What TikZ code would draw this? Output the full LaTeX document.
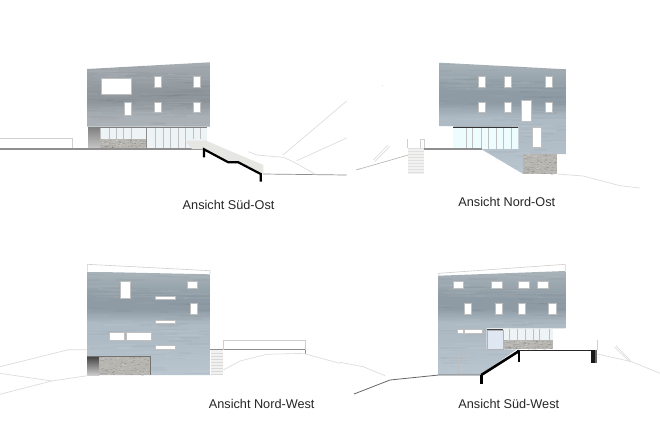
\documentclass[tikz,border=0pt]{standalone}
\usepackage{fontspec}
\setmainfont{Liberation Sans}
\definecolor{fgA}{HTML}{A6ACB1}\definecolor{fgB}{HTML}{8F979D}\definecolor{fgC}{HTML}{AAB1B6}\definecolor{fgD}{HTML}{B4BBC0}
\definecolor{fbA}{HTML}{A8B2B9}\definecolor{fbB}{HTML}{8E9BA4}\definecolor{fbC}{HTML}{AFBBC4}\definecolor{fbD}{HTML}{BAC6CF}
\pgfdeclareverticalshading{facadegray}{100bp}{color(0bp)=(fgD);color(25bp)=(fgD);color(42bp)=(fgC);color(50bp)=(fgC);color(57bp)=(fgB);color(62bp)=(fgB);color(75bp)=(fgA);color(100bp)=(fgA)}
\pgfdeclareverticalshading{facadeblue}{100bp}{color(0bp)=(fbD);color(25bp)=(fbD);color(42bp)=(fbC);color(50bp)=(fbC);color(57bp)=(fbB);color(62bp)=(fbB);color(75bp)=(fbA);color(100bp)=(fbA)}
\definecolor{hillc}{HTML}{DDDDDD}
\definecolor{railc}{HTML}{CFCFCF}
\definecolor{groundc}{HTML}{8F8F8F}
\definecolor{stonec}{HTML}{B6B5B0}
\definecolor{glassc}{HTML}{EEF3F5}
\definecolor{stairc}{HTML}{E6E6E3}
\definecolor{doorc}{HTML}{DFE8F2}
\tikzset{
  x=1pt,y=-1pt,
  hill/.style={draw=hillc,line width=0.7pt},
  thinrail/.style={draw=railc,line width=0.6pt},
  deckblack/.style={draw=black,line width=2.2pt},
  winbox/.style={fill=white,draw=black!25,line width=0.2pt},
  stonebox/.style={fill=stonec},
  glassbox/.style={fill=glassc},
  mullion/.style={draw=black!25,line width=0.4pt},
  caption/.style={font=\fontsize{12.7}{14}\selectfont,text=black!85,inner sep=0pt,anchor=center},
}
\newcommand{\wn}[4]{\path[winbox] (#1,#2) rectangle (#3,#4);}
% faint horizontal streaks of the concrete, drawn inside a facade's clip
\newcommand{\streaks}[4]{%
  \pgfmathsetseed{11}
  \foreach \k in {1,...,60}{
    \pgfmathsetmacro{\px}{#1+rnd*(#3-#1)}
    \pgfmathsetmacro{\py}{#2+rnd*(#4-#2)}
    \pgfmathsetmacro{\pw}{12+rnd*30}
    \fill[white,opacity=.04] (\px,\py) rectangle ++(\pw,1.6);
    \pgfmathsetmacro{\qx}{#1+rnd*(#3-#1)}
    \pgfmathsetmacro{\qy}{#2+rnd*(#4-#2)}
    \fill[black,opacity=.025] (\qx,\qy) rectangle ++(\pw,1.6);
  }}
\newcommand{\stonetex}[4]{%
  \path[stonebox] (#1,#2) rectangle (#3,#4);
  \begin{scope}
  \clip (#1,#2) rectangle (#3,#4);
  \pgfmathsetseed{7}
  \foreach \k in {1,...,70}{
    \pgfmathsetmacro{\px}{#1+rnd*(#3-#1)}
    \pgfmathsetmacro{\py}{#2+rnd*(#4-#2)}
    \fill[black,opacity=.08] (\px,\py) rectangle ++(2,0.9);
    \pgfmathsetmacro{\qx}{#1+rnd*(#3-#1)}
    \pgfmathsetmacro{\qy}{#2+rnd*(#4-#2)}
    \fill[white,opacity=.12] (\qx,\qy) rectangle ++(2,0.9);
  }
  \end{scope}}
\begin{document}
\begin{tikzpicture}
\useasboundingbox[fill=white] (0,0) rectangle (660,440);

%% ---- Sued-Ost ----
\draw[thinrail] (0,138.7) -- (72.7,138.7) -- (72.7,148.5);
\draw[hill] (248.3,151.7) -- (256.7,155) -- (283.3,157.3) -- (293.3,161.7) -- (315,174);
\draw[hill] (283,155) -- (346.7,101);
\draw[hill] (296.7,160.7) -- (346.7,138);
\draw[hill] (358,169.3) -- (360,168.7);
\draw[groundc,line width=0.7pt] (263,174) -- (346.7,175);
\begin{scope}
  \clip (87,69) -- (210,62.3) -- (210,126.7) -- (87,126.7) -- cycle;
  \shade[shading=facadegray] (87,62) rectangle (210,172);
  \streaks{70}{62}{210}{127}
\end{scope}
\path[glassbox] (100,127) rectangle (207.3,148.5);
\shade[top color=black!50,bottom color=black!22] (88.3,127) rectangle (100,148.5);
\stonetex{100}{139.3}{146}{148}
\foreach \x in {100,109,116,123,131,155,163,170,178,185,193,200}
  \draw[mullion] (\x,127.3) -- (\x,139.3);
\foreach \x in {155,163,170,178,185}
  \draw[mullion] (\x,139.3) -- (\x,148);
\draw[black!45,line width=0.6pt] (146,127) -- (146,148);
\draw[black!50,line width=0.5pt] (88.3,127) -- (207.3,127);
\wn{101}{78}{131}{94}
\wn{154.3}{75.7}{161.3}{86.7}
\wn{192.7}{75.7}{200}{86.7}
\wn{123.7}{101.7}{130.7}{115.3}
\wn{154.3}{101.7}{161.3}{112.3}
\wn{192.7}{101.7}{200}{112.3}
\draw[groundc,line width=1.9pt] (0,149.3) -- (204,149.3);
\path[fill=stairc] (185,140.7) -- (206,140.7) -- (263.3,165) -- (263.3,173.5) -- (260,173.5) -- (238.3,162.3) -- (228.3,162.3) -- (204,149.3) -- (192,149) -- cycle;
\draw[deckblack,line join=miter] (204,157.3) -- (204,149.3) -- (228.3,162.3) -- (238.3,162.3) -- (260.7,174) -- (260.7,181.7);
\node[caption] (lso) at (228.6,205.3) {Ansicht Süd-Ost};

%% ---- Nord-Ost ----
\draw[draw=black!30,line width=0.6pt] (356,170) -- (408.3,155);
\draw[hill] (373.3,160) -- (388,145.2);
\draw[hill] (375,161.5) -- (389.5,146.7);
\draw[hill] (381.5,85) -- (382,85);
\draw[hill] (557.3,174) -- (583.3,176) -- (620,185.7) -- (640,188);
\begin{scope}
  \clip (439.7,62.7) -- (566.7,69.3) -- (566.7,154) -- (523.3,154) -- (523.3,174) -- (481,149) -- (518.3,149) -- (518.3,127.3) -- (453.3,127.3) -- (453.3,126) -- (439.7,126) -- cycle;
  \shade[shading=facadeblue] (439.7,62) rectangle (566.7,174);
  \streaks{420}{62}{567}{174}
\end{scope}
\path[fill=glassc!70!cyan!20!white] (453.3,127.3) rectangle (518.3,148.5);
\foreach \x in {465.7,472.3,480.7,488.3,495.7,503.3,511}
  \draw[mullion] (\x,127.3) -- (\x,148.5);
\draw[black!80,line width=0.8pt] (453.3,127.3) -- (518.3,127.3);
\stonetex{523.3}{154}{557.3}{174}
\wn{478}{75.7}{485.3}{86.7}
\wn{503.7}{75.7}{510.7}{86.7}
\wn{545.3}{75.7}{552.3}{86.7}
\wn{478}{101.7}{485.3}{112.3}
\wn{503.7}{101.7}{510.7}{112.3}
\wn{545.3}{101.7}{552.3}{112.3}
\wn{521}{100}{531}{121}
\wn{531.7}{127.3}{541}{147.3}
\draw[groundc,line width=1.4pt] (424,149) -- (481.7,149);
\path[fill=stairc!55!white] (408.3,148.3) rectangle (424,174);
\foreach \y in {151,154,157,160,163,166,169,172}
  \draw[black!12,line width=0.3pt] (408.3,\y) -- (424,\y);
\draw[thinrail] (420.7,148.3) -- (420.7,139.3) -- (424,139.3) -- (424,148.3);
\draw[thinrail] (407.3,139.3) -- (407.3,148.3);
\draw[hill] (408.3,148.3) -- (424,148.3);
\node[caption] (lno) at (506.8,202.3) {Ansicht Nord-Ost};

%% ---- Nord-West ----
\draw[hill] (0,366.7) -- (68.3,349.7) -- (87.3,349.7);
\draw[hill] (0,373.3) -- (51.7,381) -- (87.3,375.7);
\draw[hill] (0,394.3) -- (51.7,381);
\draw[thinrail] (87.3,271.7) -- (87.3,264.3) -- (210,270.7) -- (210,274);
\begin{scope}
  \clip (87,271.7) -- (210,274.3) -- (210,375) -- (87,375) -- cycle;
  \shade[shading=facadeblue] (87,272) rectangle (210,375);
  \streaks{70}{272}{210}{375}
\end{scope}
\shade[top color=black!75,bottom color=black!20] (87.3,356) rectangle (99.3,375);
\stonetex{99.3}{356}{150.7}{375}
\draw[black!55,line width=0.5pt] (87.3,356) -- (150.7,356) -- (150.7,375);
\wn{120}{280.7}{130}{297.7}
\wn{186.7}{281}{197.3}{288.3}
\wn{154.7}{295.7}{175.3}{299.3}
\wn{190}{303}{197.3}{313.7}
\wn{154.7}{319.7}{175.3}{322.7}
\wn{109.3}{331.7}{124}{340}
\wn{125.7}{331.7}{151.3}{340}
\wn{154.7}{345}{175.3}{348.7}
\path[fill=stairc!55!white] (210.7,350) rectangle (223.3,375);
\foreach \y in {353,356,359,362,365,368,371,374}
  \draw[black!15,line width=0.3pt] (210.7,\y) -- (223.3,\y);
\draw[groundc,line width=1pt] (210,349.7) -- (305.3,349.7);
\draw[thinrail] (223.3,349.7) -- (223.3,340.7) -- (305.3,340.7) -- (305.3,349.7);
\draw[groundc,line width=1pt] (305.3,349.7) -- (305.3,354);
\draw[hill] (223.3,370) -- (240,361) -- (266.7,354.3) -- (305.3,353.3);
\draw[hill] (305.3,354) -- (340,363.3);
\node[caption] (lnw) at (261.7,404.3) {Ansicht Nord-West};

%% ---- Sued-West ----
\draw[hill] (340,362.3) -- (363.3,366.7) -- (385,375.7);
\draw[hill] (597.3,354) -- (631.7,361.7) -- (660,373.3);
\draw[hill] (616,345.7) -- (630.7,361);
\draw[hill] (614.5,347) -- (629.5,361.5);
\draw[thinrail] (438.7,275.7) -- (438.7,273.3) -- (565.3,264.3) -- (565.3,271);
\begin{scope}
  \clip (438.7,275.7) -- (565.3,271) -- (565.3,328.3) -- (486.7,328.3) -- (486.7,349.3) -- (516.7,349.3) -- (480,375) -- (438.7,375) -- cycle;
  \shade[shading=facadeblue] (438.7,271) rectangle (565.3,375);
  \streaks{420}{271}{566}{375}
\end{scope}
\path[glassbox] (503,329) rectangle (553.3,340);
\foreach \x in {509.3,516.7,524.7,532.7,539.3,549.3}
  \draw[mullion] (\x,329) -- (\x,340);
\path[fill=doorc,draw=black!30,line width=0.3pt] (486.7,329.7) rectangle (503,349.3);
\draw[black!75,line width=0.7pt] (486.7,329.2) -- (503,329.2);
\stonetex{503}{340}{553.3}{349.3}
\wn{452.7}{281}{463.3}{288.3}
\wn{490.7}{281}{501.7}{288.3}
\wn{518}{281}{529.3}{288.3}
\wn{537.3}{281}{548.3}{288.3}
\wn{463.7}{303}{470.7}{313.7}
\wn{494.7}{303}{501.7}{313.7}
\wn{518}{303}{525.3}{313.7}
\wn{548.3}{303}{555.7}{313.7}
\wn{456.7}{329}{463.3}{333.3}
\wn{464}{329}{482}{333.3}
\draw[black!25,line width=0.4pt] (458.3,375) -- (458.3,356) -- (468.7,356) -- (468.7,375);
\draw[black!60,line width=0.8pt] (354,394) -- (390,380) -- (438.7,375) -- (481,375);
\draw[thinrail] (597.3,340) -- (597.3,350);
\draw[draw=black!85,line width=1.3pt] (516.7,350.2) -- (596.7,350.2);
\draw[deckblack,line width=2.6pt] (481.3,375) -- (519,351);
\draw[deckblack,line width=2.4pt] (481.3,374.5) -- (481.3,384.3);
\draw[deckblack,line width=2.4pt] (518.7,350.5) -- (518.7,361.7);
\fill[black!90] (590.7,350) rectangle (594.5,363.3);
\fill[black!60] (594.5,350) rectangle (596.7,363.3);
\node[caption] (lsw) at (508.8,404) {Ansicht Süd-West};
\end{tikzpicture}
\end{document}
